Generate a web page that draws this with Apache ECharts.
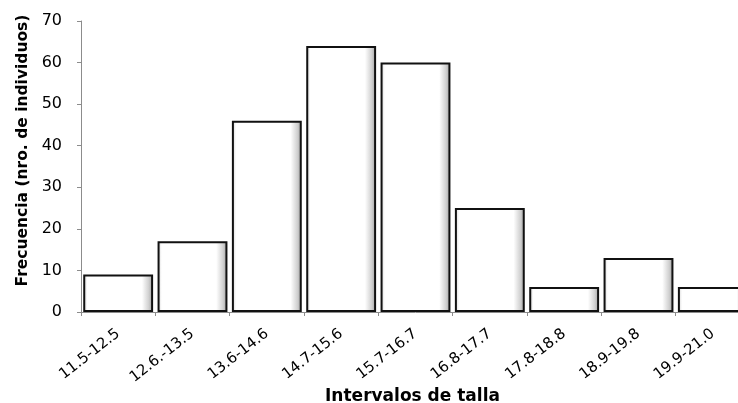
<!DOCTYPE html>
<html>
<head>
<meta charset="utf-8">
<script src="https://cdn.jsdelivr.net/npm/echarts@6/dist/echarts.min.js"></script>
<style>
html,body{margin:0;padding:0;background:#fff;overflow:hidden;width:738px;height:403px;}
#wrap{position:absolute;left:0;top:0;width:738px;height:403px;overflow:hidden;}
#c{position:absolute;left:0;top:0;width:750px;height:403px;}
</style>
</head>
<body>
<div id="wrap"><div id="c"></div></div>
<script>
var categories = ['11.5-12.5','12.6.-13.5','13.6-14.6','14.7-15.6','15.7-16.7','16.8-17.7','17.8-18.8','18.9-19.8','19.9-21.0'];
var frecuencia = [9, 17, 46, 64, 60, 25, 6, 13, 6];
var yTicks = {min: 0, max: 70, interval: 10};

var chart = echarts.init(document.getElementById('c'), null, {renderer: 'canvas', width: 750, height: 403});
var barFill = new echarts.graphic.LinearGradient(0, 0, 1, 0, [
  {offset: 0, color: '#d0d0d0'},
  {offset: 0.06, color: '#ffffff'},
  {offset: 0.84, color: '#ffffff'},
  {offset: 0.94, color: '#cfcfcf'},
  {offset: 1, color: '#9a9a9a'}
]);
chart.setOption({
  animation: false,
  backgroundColor: '#ffffff',
  grid: {left: 81, right: 0, top: 21, bottom: 91, containLabel: false, outerBoundsMode: 'none'},
  xAxis: {
    type: 'category',
    data: categories,
    name: 'Intervalos de talla',
    nameLocation: 'middle',
    nameGap: 76,
    nameMoveOverlap: false,
    nameTextStyle: {fontFamily: 'DejaVu Sans', fontWeight: 'bold', fontSize: 17, color: '#000', padding: [0, 6, 0, 0]},
    axisLine: {show: true, lineStyle: {color: '#8c8c8c', width: 1}},
    axisTick: {show: true, length: 4, alignWithLabel: false, lineStyle: {color: '#8c8c8c'}},
    axisLabel: {rotate: 38, interval: 0, margin: 20, fontFamily: 'DejaVu Sans', fontSize: 15, color: '#000'}
  },
  yAxis: {
    type: 'value',
    min: yTicks.min, max: yTicks.max, interval: yTicks.interval,
    name: 'Frecuencia (nro. de individuos)',
    nameLocation: 'middle',
    nameGap: 50,
    nameMoveOverlap: false,
    nameTextStyle: {fontFamily: 'DejaVu Sans', fontWeight: 'bold', fontSize: 15.5, color: '#000', padding: [0, 0, 0, 32]},
    axisLine: {show: true, lineStyle: {color: '#8c8c8c', width: 1}},
    axisTick: {show: true, length: 4, lineStyle: {color: '#8c8c8c'}},
    splitLine: {show: false},
    axisLabel: {margin: 19, fontFamily: 'DejaVu Sans', fontSize: 16, color: '#000'}
  },
  series: [{
    type: 'bar',
    data: frecuencia,
    barCategoryGap: '6%',
    itemStyle: {color: barFill, borderColor: '#111', borderWidth: 2}
  }]
});
</script>
</body>
</html>
